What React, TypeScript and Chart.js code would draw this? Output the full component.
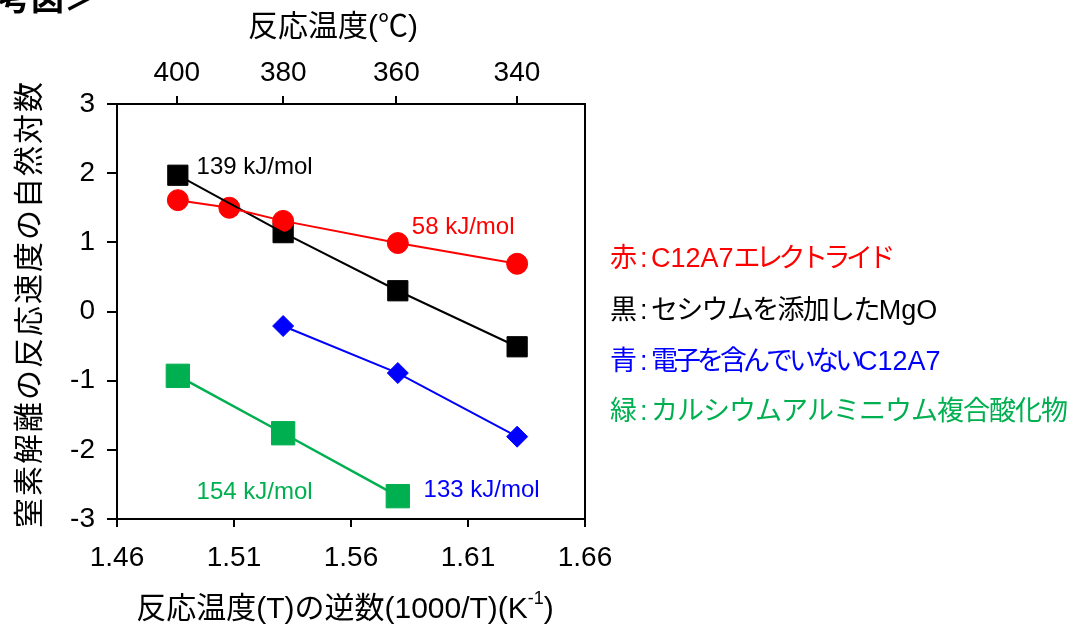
import React, { useEffect, useRef } from 'react';
import { Chart, registerables } from 'chart.js';

Chart.register(...registerables);

// Axis ranges and tick values
const X_MIN = 1.46;
const X_MAX = 1.66;
const X_TICKS = [1.46, 1.51, 1.56, 1.61, 1.66];
const Y_MIN = -3;
const Y_MAX = 3;
const TEMP_C_TICKS = [400, 380, 360, 340];

// ln(rate) vs 1000/T for each catalyst
const RED_X = [1.486, 1.508, 1.531, 1.58, 1.631];
const RED_Y = [1.61, 1.5, 1.31, 0.99, 0.69];
const BLACK_X = [1.486, 1.531, 1.58, 1.631];
const BLACK_Y = [1.97, 1.14, 0.3, -0.51];
const BLUE_X = [1.531, 1.58, 1.631];
const BLUE_Y = [-0.21, -0.89, -1.81];
const GREEN_X = [1.486, 1.531, 1.58];
const GREEN_Y = [-0.93, -1.76, -2.67];

// Activation energies written next to each line
const ENERGY_TEXT = ['58 kJ/mol', '139 kJ/mol', '133 kJ/mol', '154 kJ/mol'];
const ENERGY_X = [1.586, 1.494, 1.591, 1.494];
const ENERGY_Y = [1.22, 2.08, -2.58, -2.61];

// Colour key on the right
const KEY_CHARS = ['赤', '黒', '青', '緑'];
const KEY_NAMES = [
  'C12A7エレクトライド',
  'セシウムを添加したMgO',
  '電子を含んでいないC12A7',
  'カルシウムアルミニウム複合酸化物',
];

const TOP_TITLE_JP = '反応温度';
const TOP_TITLE_UNIT = '℃';
const Y_TITLE = '窒素解離の反応速度の自然対数';
const X_TITLE_MAIN = '反応温度(T)の逆数(1000/T)(K';
const X_TITLE_SUP = '-1';
const X_TITLE_END = ')';
const HEADER = '参考図＞';

const COLORS = ['#ff0000', '#000000', '#0000ff', '#00b050'];
const LINE_WIDTHS = [2, 2, 2, 2.5];

const FONT_LATIN = '"Liberation Sans", Arial, sans-serif';
const FONT_JP = '"Noto Sans CJK JP", sans-serif';

// per-line tracking for the Japanese runs of the colour key
const KEY_TRACKING = [-4.5, -1.7, -4, -1];

type Run = { text: string; font: string; spacing?: number };

function runWidth(ctx: CanvasRenderingContext2D, runs: Run[]) {
  let w = 0;
  for (const r of runs) {
    ctx.font = r.font;
    (ctx as any).letterSpacing = `${r.spacing ?? 0}px`;
    w += ctx.measureText(r.text).width;
  }
  (ctx as any).letterSpacing = '0px';
  return w;
}

function drawRuns(ctx: CanvasRenderingContext2D, runs: Run[], x: number, y: number) {
  for (const r of runs) {
    ctx.font = r.font;
    (ctx as any).letterSpacing = `${r.spacing ?? 0}px`;
    ctx.fillText(r.text, x, y);
    x += ctx.measureText(r.text).width;
  }
  (ctx as any).letterSpacing = '0px';
  return x;
}

function splitRuns(text: string, size: number, spacing: number): Run[] {
  const parts = text.match(/[\x00-\x7F]+|[^\x00-\x7F]+/g) || [];
  return parts.map((p) =>
    /^[\x00-\x7F]+$/.test(p)
      ? { text: p, font: `${size}px ${FONT_LATIN}` }
      : { text: p, font: `${size}px ${FONT_JP}`, spacing }
  );
}

const decorPlugin = {
  id: 'decor',
  beforeDatasetsDraw(chart: any) {
    const { ctx, chartArea: a } = chart;
    ctx.save();
    ctx.strokeStyle = '#000';
    ctx.lineWidth = 2;
    ctx.strokeRect(a.left, a.top, a.right - a.left, a.bottom - a.top);
    ctx.restore();
  },
  afterDraw(chart: any) {
    const { ctx, chartArea: a } = chart;
    const xs = chart.scales.x;
    const ys = chart.scales.y;
    ctx.save();
    ctx.textAlign = 'left';

    // activation energy labels
    ctx.textBaseline = 'middle';
    ctx.font = `24px ${FONT_LATIN}`;
    ENERGY_TEXT.forEach((t, i) => {
      ctx.fillStyle = COLORS[i];
      ctx.fillText(t, xs.getPixelForValue(ENERGY_X[i]), ys.getPixelForValue(ENERGY_Y[i]));
    });

    // top axis title
    ctx.fillStyle = '#000';
    ctx.textBaseline = 'alphabetic';
    const topRuns: Run[] = [
      { text: TOP_TITLE_JP, font: `30px ${FONT_JP}` },
      { text: '(', font: `30px ${FONT_LATIN}` },
      { text: TOP_TITLE_UNIT, font: `30px ${FONT_JP}` },
      { text: ')', font: `30px ${FONT_LATIN}` },
    ];
    const tw = runWidth(ctx, topRuns);
    drawRuns(ctx, topRuns, a.left + 216 - tw / 2, 36);

    // bottom axis title with superscript
    const mainRuns = splitRuns(X_TITLE_MAIN, 30, 0);
    const supRun: Run = { text: X_TITLE_SUP, font: `18px ${FONT_LATIN}` };
    const endRun: Run = { text: X_TITLE_END, font: `30px ${FONT_LATIN}` };
    const bw = runWidth(ctx, mainRuns) + runWidth(ctx, [supRun]) + runWidth(ctx, [endRun]);
    let bx = a.left + 228 - bw / 2;
    bx = drawRuns(ctx, mainRuns, bx, 618);
    bx = drawRuns(ctx, [supRun], bx, 604);
    drawRuns(ctx, [endRun], bx, 618);

    // left axis title, rotated
    ctx.save();
    ctx.translate(28, 305);
    ctx.rotate(-Math.PI / 2);
    ctx.textAlign = 'center';
    ctx.textBaseline = 'middle';
    ctx.font = `30px ${FONT_JP}`;
    (ctx as any).letterSpacing = '2px';
    ctx.fillText(Y_TITLE, 1, 0);
    (ctx as any).letterSpacing = '0px';
    ctx.restore();

    // colour key
    ctx.textAlign = 'left';
    ctx.textBaseline = 'alphabetic';
    const keyBase = [267, 319, 370, 420];
    const kx = a.right + 25;
    KEY_CHARS.forEach((k, i) => {
      ctx.fillStyle = COLORS[i];
      drawRuns(ctx, [{ text: k, font: `27px ${FONT_JP}` }], kx, keyBase[i]);
      drawRuns(ctx, [{ text: ':', font: `27px ${FONT_LATIN}` }], kx + 30, keyBase[i]);
      drawRuns(ctx, splitRuns(KEY_NAMES[i], 27, KEY_TRACKING[i]), kx + 41, keyBase[i]);
    });

    // page header, cut by the top edge
    ctx.fillStyle = '#000';
    ctx.font = `bold 33px ${FONT_JP}`;
    ctx.fillText(HEADER, -35, 10);

    ctx.restore();
  },
};

const tickFont = { family: FONT_LATIN, size: 28 };
const axisGrid = (len: number) => ({
  drawOnChartArea: false,
  drawTicks: true,
  tickLength: len,
  color: '#000',
  lineWidth: 2,
});

export default function App() {
  const ref = useRef<HTMLCanvasElement>(null);

  useEffect(() => {
    const canvas = ref.current!;
    const series = [
      { x: RED_X, y: RED_Y, style: 'circle', r: 10.5 },
      { x: BLACK_X, y: BLACK_Y, style: 'rect', r: 14.3 },
      { x: BLUE_X, y: BLUE_Y, style: 'rectRot', r: 10.5 },
      { x: GREEN_X, y: GREEN_Y, style: 'rect', r: 16.5 },
    ];
    const toPts = (xs: number[], ys: number[]) => xs.map((x, i) => ({ x, y: ys[i] }));

    const lineSets = series.map((s, i) => ({
      data: toPts(s.x, s.y),
      showLine: true,
      borderColor: COLORS[i],
      borderWidth: LINE_WIDTHS[i],
      pointRadius: 0,
      order: 0,
      clip: false,
    }));
    const markerOrder = [1, 2, 3, 4];
    const markerSets = series.map((s, i) => ({
      data: toPts(s.x, s.y),
      showLine: false,
      pointStyle: s.style,
      pointRadius: s.r,
      pointBackgroundColor: COLORS[i],
      pointBorderColor: COLORS[i],
      pointBorderWidth: 1,
      order: markerOrder[i],
      clip: false,
    }));

    const chart = new Chart(canvas, {
      type: 'scatter',
      data: { datasets: [...lineSets, ...markerSets] as any },
      plugins: [decorPlugin],
      options: {
        responsive: false,
        animation: false,
        events: [],
        layout: { padding: { left: 0, top: 0, right: 487, bottom: 0 } },
        plugins: { legend: { display: false }, tooltip: { enabled: false } },
        scales: {
          x: {
            type: 'linear',
            position: 'bottom',
            min: X_MIN,
            max: X_MAX,
            afterBuildTicks: (s: any) => {
              s.ticks = X_TICKS.map((v) => ({ value: v }));
            },
            afterFit: (s: any) => {
              s.height = 109;
            },
            ticks: {
              autoSkip: false,
              maxRotation: 0,
              padding: 14,
              color: '#000',
              font: tickFont,
              callback: (v: any) => Number(v).toFixed(2),
            },
            grid: axisGrid(8),
            border: { display: false },
          },
          xTop: {
            type: 'linear',
            position: 'top',
            min: X_MIN,
            max: X_MAX,
            afterBuildTicks: (s: any) => {
              s.ticks = TEMP_C_TICKS.map((c) => ({ value: 1000 / (c + 273.15) }));
            },
            afterFit: (s: any) => {
              s.height = 104;
            },
            ticks: {
              autoSkip: false,
              maxRotation: 0,
              padding: 6,
              color: '#000',
              font: tickFont,
              callback: (_v: any, i: number) => String(TEMP_C_TICKS[i]),
            },
            grid: axisGrid(8),
            border: { display: false },
          },
          y: {
            type: 'linear',
            position: 'left',
            min: Y_MIN,
            max: Y_MAX,
            afterFit: (s: any) => {
              s.width = 117;
            },
            ticks: {
              stepSize: 1,
              padding: 12,
              color: '#000',
              font: tickFont,
              callback: (v: any) => String(v),
            },
            grid: axisGrid(10),
            border: { display: false },
          },
        },
      },
    });
    return () => chart.destroy();
  }, []);

  return (
    <div style={{ position: 'fixed', left: 0, top: 0, width: 1072, height: 628, background: '#fff' }}>
      <canvas ref={ref} width={1072} height={628} style={{ display: 'block', width: 1072, height: 628 }} />
    </div>
  );
}
